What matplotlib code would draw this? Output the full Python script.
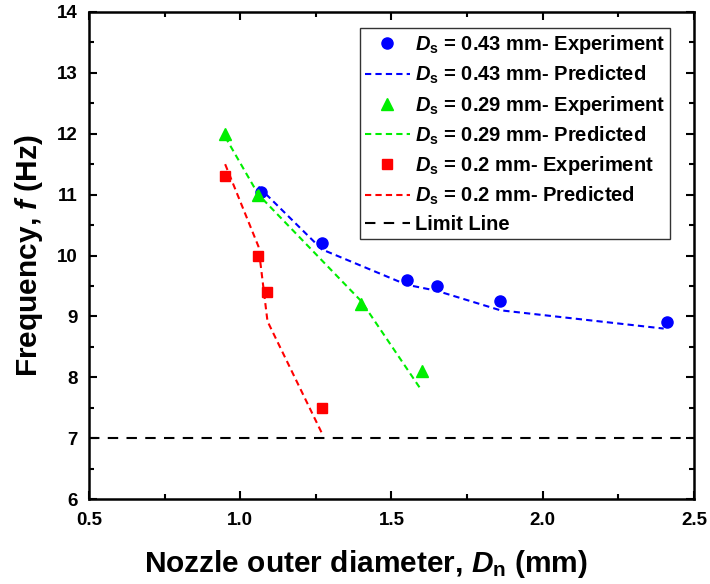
import matplotlib
matplotlib.use("Agg")
import matplotlib.pyplot as plt
from matplotlib.ticker import MultipleLocator

plt.rcParams['font.family'] = ['Liberation Sans', 'DejaVu Sans']
plt.rcParams['font.weight'] = 'bold'
plt.rcParams['mathtext.fontset'] = 'custom'
plt.rcParams['mathtext.it'] = 'Liberation Sans:italic:bold'
plt.rcParams['mathtext.rm'] = 'Liberation Sans:bold'
plt.rcParams['mathtext.bf'] = 'Liberation Sans:bold'

# experiment data
x_043 = [1.07, 1.27, 1.55, 1.65, 1.86, 2.41]
y_043 = [11.05, 10.2, 9.6, 9.5, 9.25, 8.9]
x_029 = [0.95, 1.06, 1.40, 1.60]
y_029 = [12.0, 11.0, 9.2, 8.1]
x_020 = [0.95, 1.06, 1.09, 1.27]
y_020 = [11.3, 10.0, 9.4, 7.5]

# predicted curves
xp_043 = [1.06, 1.27, 1.55, 1.65, 1.86, 2.40]
yp_043 = [11.13, 10.1, 9.52, 9.42, 9.1, 8.8]
xp_029 = [0.95, 1.06, 1.40, 1.60]
yp_029 = [11.95, 11.0, 9.25, 7.78]
xp_020 = [0.95, 1.06, 1.09, 1.27]
yp_020 = [11.5, 10.15, 8.92, 7.08]

limit_f = 7.0
xlim = (0.5, 2.5)
ylim = (6, 14)

fig = plt.figure(figsize=(7.1, 5.84), dpi=100)
ax = fig.add_axes([0.1254, 0.1455, 0.852, 0.834])

ds = r'$\mathit{D}_\mathrm{s}$'
dash = (0, (3, 2))

ax.plot(x_043, y_043, 'o', color='#0000ff', ms=8, lw=0, label=ds + ' = 0.43 mm- Experiment')
ax.plot(xp_043, yp_043, color='#0000ff', ls=dash, lw=1.5, label=ds + ' = 0.43 mm- Predicted')
ax.plot(x_029, y_029, '^', color='#00ee00', ms=9, lw=0, label=ds + ' = 0.29 mm- Experiment')
ax.plot(xp_029, yp_029, color='#00ee00', ls=dash, lw=1.5, label=ds + ' = 0.29 mm- Predicted')
ax.plot(x_020, y_020, 's', color='#ff0000', ms=7, lw=0, label=ds + ' = 0.2 mm- Experiment')
ax.plot(xp_020, yp_020, color='#ff0000', ls=dash, lw=1.5, label=ds + ' = 0.2 mm- Predicted')
ax.axhline(limit_f, color='black', ls=(0, (5, 4)), lw=1.5, label='Limit Line')

ax.set_xlim(*xlim)
ax.set_ylim(*ylim)
ax.xaxis.set_major_locator(MultipleLocator(0.5))
ax.xaxis.set_minor_locator(MultipleLocator(0.25))
ax.yaxis.set_major_locator(MultipleLocator(1))
ax.yaxis.set_minor_locator(MultipleLocator(0.5))
ax.tick_params(which='both', direction='in', top=True, right=True, width=1.5, labelsize=13.5)
ax.tick_params(which='major', length=6)
ax.tick_params(which='minor', length=3.5)
ax.tick_params(axis='x', which='major', pad=9)
ax.tick_params(axis='y', which='major', pad=8)
for s in ax.spines.values():
    s.set_linewidth(1.8)

ax.set_xlabel(r'Nozzle outer diameter, $\mathit{D}_\mathrm{n}$ (mm)', fontsize=21.5, fontweight='bold')
ax.xaxis.set_label_coords(0.458, -0.1)
ax.set_ylabel(r'Frequency, $\mathit{f}$ (Hz)', fontsize=21.5, fontweight='bold', labelpad=9)

leg = ax.legend(loc='upper right', bbox_to_anchor=(0.960, 0.967), fontsize=14.5, frameon=True,
                fancybox=False, edgecolor='black', handlelength=2.2, handletextpad=0.25,
                labelspacing=0.38, borderpad=0.25, borderaxespad=0)
leg.get_frame().set_linewidth(1.0)

fig.savefig('out.png', dpi=100)
